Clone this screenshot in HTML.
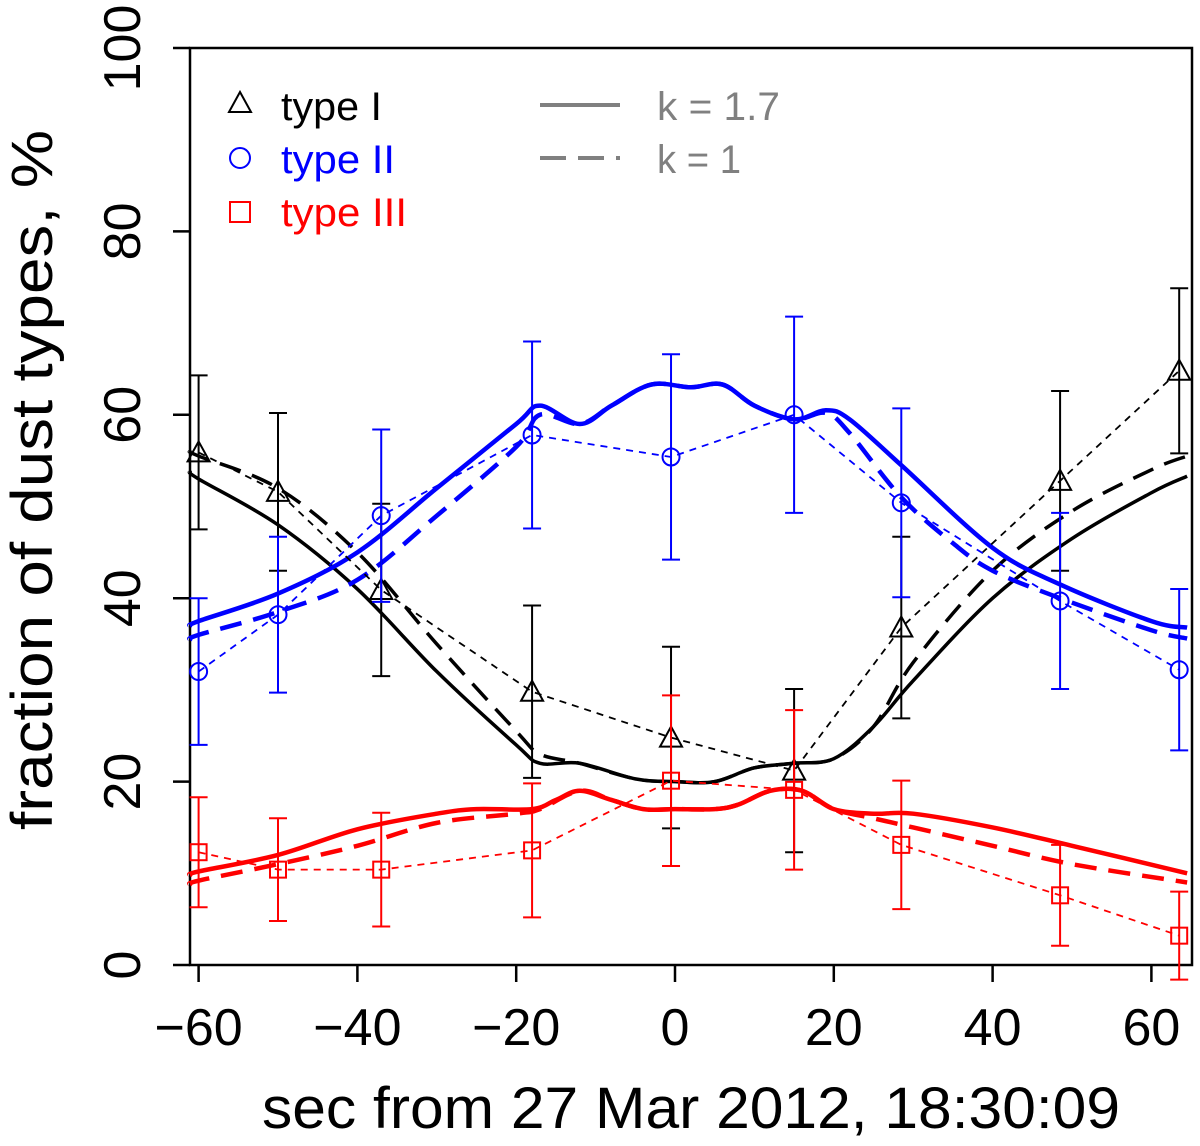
<!DOCTYPE html>
<html><head><meta charset="utf-8"><style>
body{margin:0;background:#fff}
svg{display:block;font-family:"Liberation Sans",Arial,sans-serif}
</style></head><body>
<svg id="chart" width="1200" height="1146" viewBox="0 0 1200 1146">
<rect x="190" y="48" width="1002" height="917" fill="none" stroke="#000" stroke-width="2.5"/>
<g id="axes"></g>
<g id="curves"></g>
<g id="series"></g>
<text x="691" y="1128" font-size="58" text-anchor="middle" textLength="858" lengthAdjust="spacingAndGlyphs">sec from 27 Mar 2012, 18:30:09</text>
<text transform="translate(52,480) rotate(-90)" font-size="58" text-anchor="middle" textLength="700" lengthAdjust="spacingAndGlyphs">fraction of dust types, %</text>
<g>
<polygon points="229,112 251,112 240,92" fill="none" stroke="#000" stroke-width="2"/>
<text x="281" y="120" font-size="40" textLength="101" lengthAdjust="spacingAndGlyphs">type I</text>
<circle cx="240" cy="158" r="10" fill="none" stroke="#0000ff" stroke-width="2"/>
<text x="281" y="173" font-size="40" fill="#0000ff" textLength="114" lengthAdjust="spacingAndGlyphs">type II</text>
<rect x="230" y="202" width="20" height="20" fill="none" stroke="#ff0000" stroke-width="2"/>
<text x="281" y="226" font-size="40" fill="#ff0000" textLength="126" lengthAdjust="spacingAndGlyphs">type III</text>
<line x1="540" y1="105" x2="620" y2="105" stroke="#808080" stroke-width="4"/>
<text x="657" y="120" font-size="40" fill="#808080" textLength="123" lengthAdjust="spacingAndGlyphs">k = 1.7</text>
<line x1="540" y1="158" x2="620" y2="158" stroke="#808080" stroke-width="4" stroke-dasharray="26,12"/>
<text x="657" y="173" font-size="40" fill="#808080" textLength="84" lengthAdjust="spacingAndGlyphs">k = 1</text>
</g>
</svg>
<script>
const times=[-60,-50,-37,-18,-0.5,15,28.5,48.5,63.5];
const typeI=[55.9,51.6,40.9,29.8,24.8,21.2,36.8,52.8,64.8];
const typeIErr=[8.4,8.6,9.4,9.4,9.9,8.9,9.9,9.8,9.0];
const typeII=[32.0,38.2,49.0,57.8,55.4,60.0,50.4,39.7,32.2];
const typeIIErr=[8.0,8.5,9.4,10.2,11.2,10.7,10.3,9.6,8.8];
const typeIII=[12.3,10.4,10.4,12.5,20.1,19.1,13.1,7.6,3.2];
const typeIIIErr=[6.0,5.6,6.2,7.3,9.3,8.7,7.0,5.5,4.8];
const xTicks=[-60,-40,-20,0,20,40,60];
const yTicks=[0,20,40,60,80,100];
const blackSolidT=[-62,-60,-50,-40,-30,-20,-17,-12,-5,0,5,10,15,20,25,30,40,50,60,64.5];
const blackSolidV=[53.8,53,48,41,32,24,22,22,20.3,20,20,21.5,22,22.5,26,31,40,46.5,51.5,53.3];
const blackDashT=[-62,-60,-50,-40,-30,-20,-17,-12,-5,0,5,10,15,20,25,30,40,50,60,64.5];
const blackDashV=[56,55.5,52,45,35,25.5,23,22,20.3,20,20,21.5,22,22.5,26,33,43,49.5,54,55.5];
const blueSolidT=[-62,-60,-50,-40,-30,-20,-17,-12,-8,-3,2,6,10,15,19,22,28.5,40,48.5,60,64.5];
const blueSolidV=[37,37.5,40.5,45,52,59,61,59,61,63.3,63,63.3,61,59.5,60.5,59.5,54.5,45.5,41.5,37.5,36.8];
const blueDashT=[-62,-60,-50,-40,-30,-20,-17,-12,-8,-3,2,6,10,15,19,22,28.5,35,40,48.5,60,64.5];
const blueDashV=[35.5,36,38.5,42,49,56.5,60,59,61,63.3,63,63.3,61,59.5,60.2,58,51,46,43,40,36.5,35.6];
const redSolidT=[-62,-60,-50,-40,-30,-25,-18,-15,-12,-8,-4,0,5,8,12,16,20,25,30,40,50,64.5];
const redSolidV=[9.8,10.2,12,14.8,16.5,17,17,18,19,18,17,17,17,17.5,19,19,17,16.5,16.5,15,13,10];
const redDashT=[-62,-60,-50,-40,-30,-20,-17,-12,-8,-4,0,5,8,12,16,20,25,30,40,50,64.5];
const redDashV=[8.8,9.2,11,13,15.5,16.5,17,19,18,17,17,17,17.5,19,19,17,16,15,13,11,9];

const NS='http://www.w3.org/2000/svg';
function X(t){return 675+t*7.94;}
function Y(v){return 965-v*9.17;}
function mk(tag,attrs,parent){const e=document.createElementNS(NS,tag);for(const k in attrs)e.setAttribute(k,attrs[k]);parent.appendChild(e);return e;}
const axes=document.getElementById('axes');
xTicks.forEach(t=>{
  const l=mk('line',{x1:X(t),x2:X(t),y1:965,y2:982,stroke:'#000','stroke-width':2.5},axes);
  
  
  const tx=mk('text',{x:X(t),y:1045,'font-size':52,'text-anchor':'middle'},axes);
  tx.textContent=t<0?'\u2212'+Math.abs(t):String(t);
  
  
});
yTicks.forEach(v=>{
  const l=mk('line',{x1:173,x2:190,y1:Y(v),y2:Y(v),stroke:'#000','stroke-width':2.5},axes);
  
  
  const tx=mk('text',{transform:`translate(140,${Y(v)}) rotate(-90)`,'font-size':52,'text-anchor':'middle'},axes);
  tx.textContent=String(v);
  
  
});
function smoothPath(ts,vs){
  const p=ts.map((t,i)=>[Math.max(190,Math.min(1192,X(t))),Y(vs[i])]);
  let d='M'+p[0][0]+','+p[0][1];
  for(let i=0;i<p.length-1;i++){
    const p0=p[Math.max(0,i-1)],p1=p[i],p2=p[i+1],p3=p[Math.min(p.length-1,i+2)];
    const c1=[p1[0]+(p2[0]-p0[0])/6,p1[1]+(p2[1]-p0[1])/6];
    const c2=[p2[0]-(p3[0]-p1[0])/6,p2[1]-(p3[1]-p1[1])/6];
    d+=`C${c1[0]},${c1[1]} ${c2[0]},${c2[1]} ${p2[0]},${p2[1]}`;
  }
  return d;
}
const cg=document.getElementById('curves');
[[blackSolidT,blackSolidV,'#000',3.5,'','model-type-i-k17'],
 [blackDashT,blackDashV,'#000',3.5,'22,12','model-type-i-k1'],
 [blueSolidT,blueSolidV,'#0000ff',4.5,'','model-type-ii-k17'],
 [blueDashT,blueDashV,'#0000ff',4.5,'22,12','model-type-ii-k1'],
 [redSolidT,redSolidV,'#ff0000',4.5,'','model-type-iii-k17'],
 [redDashT,redDashV,'#ff0000',4.5,'22,12','model-type-iii-k1']].forEach(c=>{
  const attrs={d:smoothPath(c[0],c[1]),fill:'none',stroke:c[2],'stroke-width':c[3]};
  if(c[4])attrs['stroke-dasharray']=c[4];
  const e=mk('path',attrs,cg);
  
  
});
const sg=document.getElementById('series');
function drawSeries(vals,errs,color,shape,name){
  const pts=times.map((t,i)=>X(t)+','+Y(vals[i])).join(' ');
  const pl=mk('polyline',{points:pts,fill:'none',stroke:color,'stroke-width':1.8,'stroke-dasharray':'7,6'},sg);
  
  
  times.forEach((t,i)=>{
    const x=X(t),y=Y(vals[i]),yt=Y(vals[i]+errs[i]),yb=Y(vals[i]-errs[i]);
    const eb=mk('path',{d:`M${x},${yt}V${yb}M${x-9},${yt}H${x+9}M${x-9},${yb}H${x+9}`,stroke:color,'stroke-width':2,fill:'none'},sg);
    
    
    let m;
    if(shape==='tri')m=mk('polygon',{points:`${x-11},${y+9} ${x+11},${y+9} ${x},${y-11}`,fill:'none',stroke:color,'stroke-width':2},sg);
    else if(shape==='circ')m=mk('circle',{cx:x,cy:y,r:8.5,fill:'none',stroke:color,'stroke-width':2},sg);
    else m=mk('rect',{x:x-8,y:y-8,width:16,height:16,fill:'none',stroke:color,'stroke-width':2},sg);
    
    
  });
}
drawSeries(typeI,typeIErr,'#000','tri','type-i');
drawSeries(typeII,typeIIErr,'#0000ff','circ','type-ii');
drawSeries(typeIII,typeIIIErr,'#ff0000','sq','type-iii');
</script>
</body></html>
